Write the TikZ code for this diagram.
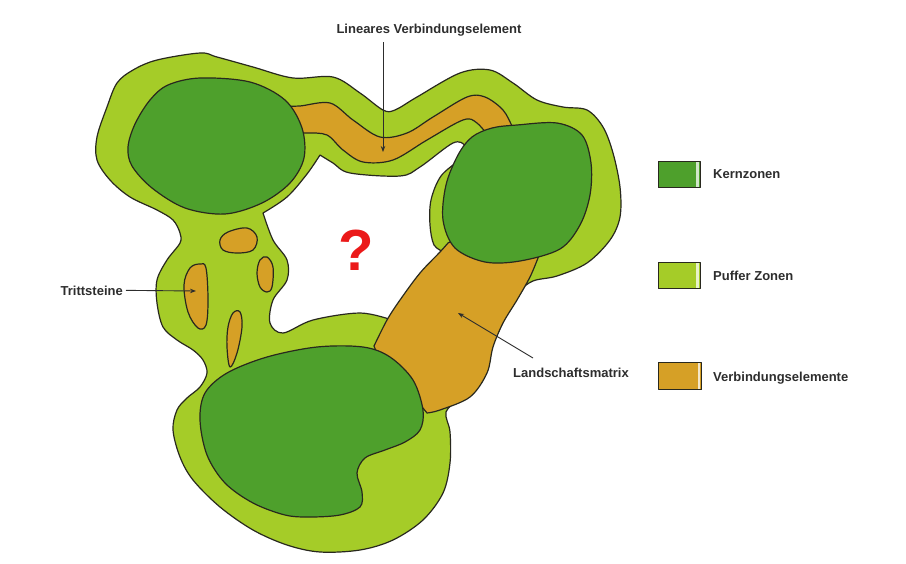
\documentclass[tikz,border=0pt]{standalone}
\usepackage{fontspec}
\setmainfont{Liberation Sans}
\usetikzlibrary{arrows.meta}
\definecolor{core}{RGB}{78,160,44}
\definecolor{buffer}{RGB}{165,204,40}
\definecolor{link}{RGB}{214,160,38}
\definecolor{edge}{RGB}{40,40,30}
\definecolor{txt}{RGB}{45,45,45}
\definecolor{qred}{RGB}{235,25,25}
\begin{document}
\begin{tikzpicture}[x=1pt,y=-1pt,line join=round,
  region/.style={draw=edge,line width=1.2pt},
  lbl/.style={font=\bfseries\fontsize{13}{15}\selectfont,text=txt,inner sep=0pt},
  pointer/.style={draw=txt,line width=0.9pt,-{Stealth[length=6pt,width=4.5pt]}},
  key/.style={draw=edge,line width=1pt,minimum width=42pt,minimum height=26pt,inner sep=0pt,
    path picture={\fill[white,opacity=0.75] ([xshift=-4pt]path picture bounding box.north east) rectangle ([xshift=-1.2pt]path picture bounding box.south east);}}]
\useasboundingbox[fill=white] (0,0) rectangle (906,563);

% buffer zone (outer)
\path[region,fill=buffer] plot[smooth cycle,tension=0.55] coordinates {
 (117,83) (133,70) (157,60) (200,53) (217,57) (253,67) (293,78) (333,77) (360,93) (383,110) (395,110)
 (417,97) (460,73) (490,70) (513,83) (537,100) (563,107) (587,110) (603,127) (613,153) (620,187)
 (620,217) (610,240) (587,263) (557,276) (533,281) (518,293) (505,318) (490,350) (478,380) (460,398)
 (446,412) (450,432) (450,463) (443,493) (423,520) (393,540) (360,550) (320,552) (287,545) (253,530) (220,507)
 (193,480) (180,457) (173,430) (177,410) (187,398) (200,387) (207,373) (203,360) (193,350) (177,340)
 (163,327) (157,303) (157,280) (167,260) (180,243) (180,233) (173,220) (157,210) (130,197) (110,180)
 (97,160) (97,137) (107,107)};

% open landscape (hole)
\path[region,fill=white]
 plot[smooth,tension=0.55] coordinates {(263,213) (287,197) (307,174) (320,155)}
 -- plot[smooth,tension=0.55] coordinates {(320,155) (333,163) (350,173) (400,176) (420,167) (453,143)
    (465,146) (461,158) (441,176) (431,200) (430,225) (434,245) (445,256) (428,275) (408,300) (392,320)}
 -- plot[smooth,tension=0.55] coordinates {(392,320) (360,313) (313,320) (283,333) (270,323) (273,300)
    (287,280) (287,260) (273,240) (263,213)} -- cycle;

% linear connecting element
\path[region,fill=link]
 plot[smooth,tension=0.55] coordinates {(286,106) (300,106) (330,103) (353,120) (380,137) (407,133)
   (433,117) (467,97) (485,97) (503,110) (513,128) (520,142)}
 -- plot[smooth,tension=0.55] coordinates {(494,143) (477,123) (463,120) (427,140) (393,160) (363,162)
   (343,150) (327,135) (307,133) (294,134)} -- cycle;

% landscape matrix patch
\path[region,fill=link] (545,245)
 -- plot[smooth,tension=0.55] coordinates {(538,258) (530,277) (517,300) (503,323) (493,347) (487,373)
   (470,397) (440,410) (427,413)}
 -- (400,380) -- (378,356)
 -- plot[smooth,tension=0.55] coordinates {(374,346) (387,320) (400,300) (420,273) (440,252) (448,243)}
 -- (462,236) -- cycle;

% stepping stones
\path[region,fill=link] plot[smooth cycle,tension=0.6] coordinates {(220,240) (228,232) (247,228) (257,237) (253,250) (237,253) (223,250)};
\path[region,fill=link] plot[smooth cycle,tension=0.6] coordinates {(260,260) (267,257) (273,267) (272,287) (267,292) (260,287) (257,273)};
\path[region,fill=link] plot[smooth cycle,tension=0.6] coordinates {(190,268) (200,264) (206,268) (208,300) (206,325) (198,328) (188,312) (184,285)};
\path[region,fill=link] plot[smooth cycle,tension=0.6] coordinates {(233,313) (240,312) (242,327) (237,353) (230,367) (227,347) (228,327)};

% core zones
\path[region,fill=core] plot[smooth cycle,tension=0.55] coordinates {(128,147) (135,124) (150,100) (168,85)
  (200,78) (250,82) (285,100) (302,128) (304,158) (290,183) (262,203) (225,214) (185,208) (152,188) (132,166)};
\path[region,fill=core] plot[smooth cycle,tension=0.55] coordinates {(458,155) (472,137) (492,128) (517,125)
  (557,123) (582,135) (591,163) (590,195) (580,225) (560,249) (520,261) (485,262) (455,248) (443,220) (446,185)};
\path[region,fill=core] plot[smooth cycle,tension=0.55] coordinates {(205,393) (227,373) (267,357) (317,347)
  (363,347) (390,357) (413,380) (423,410) (420,430) (405,442) (385,450) (365,458) (357,473) (362,492)
  (360,507) (340,515) (310,517) (285,515) (253,503) (225,483) (207,455) (200,420)};

% question mark
\node[text=qred,font=\bfseries\fontsize{58}{58}\selectfont,inner sep=0pt] (q) at (356.5,250) {?};

% labels and pointers
\node[lbl,anchor=base] (lv) at (429,33) {Lineares Verbindungselement};
\coordinate (lvStart) at (383,42);
\coordinate (lvTip) at (383,152);
\draw[pointer] (lvStart) -- (lvTip);

\node[lbl,anchor=base east] (ts) at (123,295) {Trittsteine};
\coordinate (tsTip) at (196,291);
\draw[pointer] ([xshift=3pt]ts.east) -- (tsTip);

\node[lbl,anchor=base west] (lm) at (513,377) {Landschaftsmatrix};
\coordinate (lmStart) at (533,358);
\coordinate (lmTip) at (458,313);
\draw[pointer] (lmStart) -- (lmTip);

% legend
\node[key,fill=core] (k1) at (679,174.5) {};
\node[key,fill=buffer] (k2) at (679,275.5) {};
\node[key,fill=link,minimum width=43pt,minimum height=27pt] (k3) at (680,376) {};
\node[lbl,anchor=base west] (t1) at (713,178) {Kernzonen};
\node[lbl,anchor=base west] (t2) at (713,280) {Puffer Zonen};
\node[lbl,anchor=base west] (t3) at (713,381) {Verbindungselemente};
\end{tikzpicture}
\end{document}
